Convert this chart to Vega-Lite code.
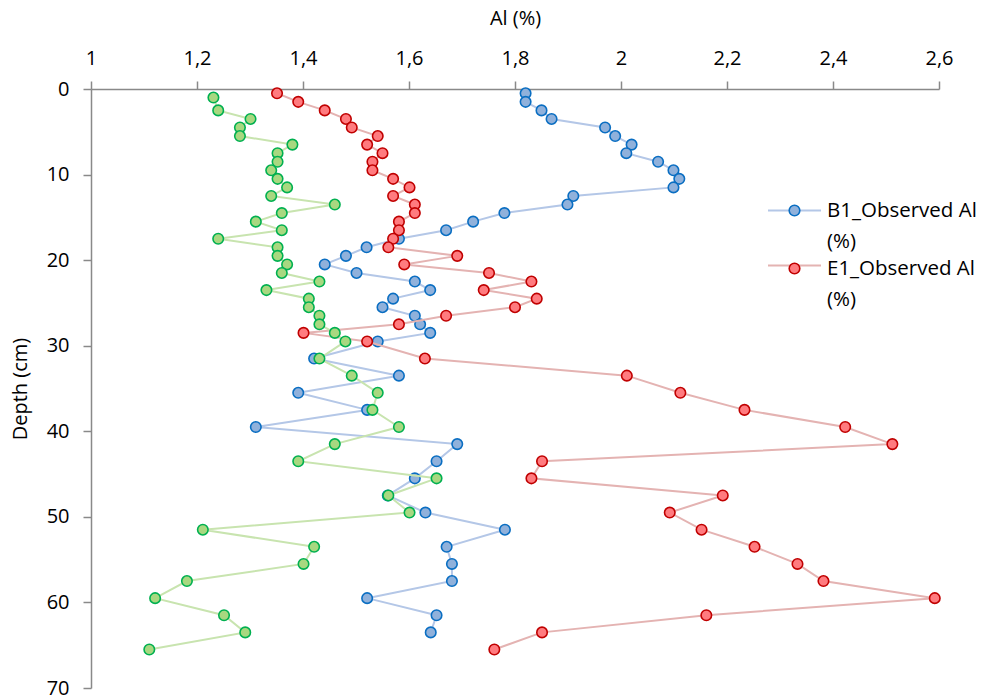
{
  "$schema": "https://vega.github.io/schema/vega-lite/v6.json",
  "width": 848,
  "height": 599,
  "autosize": {"type": "none"},
  "padding": {"left": 91, "top": 89, "right": 43, "bottom": 12},
  "background": "white",
  "config": {
    "view": {"stroke": null},
    "font": "Open Sans",
    "style": {"guide-label": {"lineHeight": 31}},
    "axis": {
      "labelFont": "Open Sans",
      "labelFontSize": 20,
      "labelColor": "#000000",
      "titleFont": "Open Sans",
      "titleFontSize": 20,
      "titleFontWeight": "normal",
      "titleColor": "#000000",
      "domainColor": "#898989",
      "domainWidth": 1.5,
      "tickColor": "#898989",
      "tickWidth": 1.5,
      "tickSize": 8,
      "grid": false
    },
    "legend": {
      "labelFont": "Open Sans",
      "labelFontSize": 20.5,
      "labelColor": "#000000"
    }
  },
  "datasets": {
    "rows": [
      {"series": "B1_Observed Al (%)", "depth": 0.5, "al": 1.820},
      {"series": "B1_Observed Al (%)", "depth": 1.5, "al": 1.820},
      {"series": "B1_Observed Al (%)", "depth": 2.5, "al": 1.850},
      {"series": "B1_Observed Al (%)", "depth": 3.5, "al": 1.869},
      {"series": "B1_Observed Al (%)", "depth": 4.5, "al": 1.970},
      {"series": "B1_Observed Al (%)", "depth": 5.5, "al": 1.989},
      {"series": "B1_Observed Al (%)", "depth": 6.5, "al": 2.020},
      {"series": "B1_Observed Al (%)", "depth": 7.5, "al": 2.010},
      {"series": "B1_Observed Al (%)", "depth": 8.5, "al": 2.070},
      {"series": "B1_Observed Al (%)", "depth": 9.5, "al": 2.099},
      {"series": "B1_Observed Al (%)", "depth": 10.5, "al": 2.110},
      {"series": "B1_Observed Al (%)", "depth": 11.5, "al": 2.099},
      {"series": "B1_Observed Al (%)", "depth": 12.5, "al": 1.910},
      {"series": "B1_Observed Al (%)", "depth": 13.5, "al": 1.899},
      {"series": "B1_Observed Al (%)", "depth": 14.5, "al": 1.780},
      {"series": "B1_Observed Al (%)", "depth": 15.5, "al": 1.721},
      {"series": "B1_Observed Al (%)", "depth": 16.5, "al": 1.670},
      {"series": "B1_Observed Al (%)", "depth": 17.5, "al": 1.581},
      {"series": "B1_Observed Al (%)", "depth": 18.5, "al": 1.520},
      {"series": "B1_Observed Al (%)", "depth": 19.5, "al": 1.481},
      {"series": "B1_Observed Al (%)", "depth": 20.5, "al": 1.441},
      {"series": "B1_Observed Al (%)", "depth": 21.5, "al": 1.501},
      {"series": "B1_Observed Al (%)", "depth": 22.5, "al": 1.611},
      {"series": "B1_Observed Al (%)", "depth": 23.5, "al": 1.640},
      {"series": "B1_Observed Al (%)", "depth": 24.5, "al": 1.570},
      {"series": "B1_Observed Al (%)", "depth": 25.5, "al": 1.550},
      {"series": "B1_Observed Al (%)", "depth": 26.5, "al": 1.611},
      {"series": "B1_Observed Al (%)", "depth": 27.5, "al": 1.621},
      {"series": "B1_Observed Al (%)", "depth": 28.5, "al": 1.640},
      {"series": "B1_Observed Al (%)", "depth": 29.5, "al": 1.541},
      {"series": "B1_Observed Al (%)", "depth": 31.5, "al": 1.421},
      {"series": "B1_Observed Al (%)", "depth": 33.5, "al": 1.581},
      {"series": "B1_Observed Al (%)", "depth": 35.5, "al": 1.391},
      {"series": "B1_Observed Al (%)", "depth": 37.5, "al": 1.521},
      {"series": "B1_Observed Al (%)", "depth": 39.5, "al": 1.311},
      {"series": "B1_Observed Al (%)", "depth": 41.5, "al": 1.691},
      {"series": "B1_Observed Al (%)", "depth": 43.5, "al": 1.652},
      {"series": "B1_Observed Al (%)", "depth": 45.5, "al": 1.611},
      {"series": "B1_Observed Al (%)", "depth": 47.5, "al": 1.560},
      {"series": "B1_Observed Al (%)", "depth": 49.5, "al": 1.631},
      {"series": "B1_Observed Al (%)", "depth": 51.5, "al": 1.781},
      {"series": "B1_Observed Al (%)", "depth": 53.5, "al": 1.671},
      {"series": "B1_Observed Al (%)", "depth": 55.5, "al": 1.681},
      {"series": "B1_Observed Al (%)", "depth": 57.5, "al": 1.681},
      {"series": "B1_Observed Al (%)", "depth": 59.5, "al": 1.521},
      {"series": "B1_Observed Al (%)", "depth": 61.5, "al": 1.652},
      {"series": "B1_Observed Al (%)", "depth": 63.5, "al": 1.641},
      {"series": "E1_Observed Al (%)", "depth": 0.5, "al": 1.351},
      {"series": "E1_Observed Al (%)", "depth": 1.5, "al": 1.391},
      {"series": "E1_Observed Al (%)", "depth": 2.5, "al": 1.441},
      {"series": "E1_Observed Al (%)", "depth": 3.5, "al": 1.481},
      {"series": "E1_Observed Al (%)", "depth": 4.5, "al": 1.492},
      {"series": "E1_Observed Al (%)", "depth": 5.5, "al": 1.541},
      {"series": "E1_Observed Al (%)", "depth": 6.5, "al": 1.521},
      {"series": "E1_Observed Al (%)", "depth": 7.5, "al": 1.550},
      {"series": "E1_Observed Al (%)", "depth": 8.5, "al": 1.531},
      {"series": "E1_Observed Al (%)", "depth": 9.5, "al": 1.531},
      {"series": "E1_Observed Al (%)", "depth": 10.5, "al": 1.570},
      {"series": "E1_Observed Al (%)", "depth": 11.5, "al": 1.601},
      {"series": "E1_Observed Al (%)", "depth": 12.5, "al": 1.570},
      {"series": "E1_Observed Al (%)", "depth": 13.5, "al": 1.611},
      {"series": "E1_Observed Al (%)", "depth": 14.5, "al": 1.611},
      {"series": "E1_Observed Al (%)", "depth": 15.5, "al": 1.581},
      {"series": "E1_Observed Al (%)", "depth": 16.5, "al": 1.581},
      {"series": "E1_Observed Al (%)", "depth": 17.5, "al": 1.570},
      {"series": "E1_Observed Al (%)", "depth": 18.5, "al": 1.561},
      {"series": "E1_Observed Al (%)", "depth": 19.5, "al": 1.691},
      {"series": "E1_Observed Al (%)", "depth": 20.5, "al": 1.591},
      {"series": "E1_Observed Al (%)", "depth": 21.5, "al": 1.751},
      {"series": "E1_Observed Al (%)", "depth": 22.5, "al": 1.831},
      {"series": "E1_Observed Al (%)", "depth": 23.5, "al": 1.741},
      {"series": "E1_Observed Al (%)", "depth": 24.5, "al": 1.841},
      {"series": "E1_Observed Al (%)", "depth": 25.5, "al": 1.800},
      {"series": "E1_Observed Al (%)", "depth": 26.5, "al": 1.670},
      {"series": "E1_Observed Al (%)", "depth": 27.5, "al": 1.581},
      {"series": "E1_Observed Al (%)", "depth": 28.5, "al": 1.401},
      {"series": "E1_Observed Al (%)", "depth": 29.5, "al": 1.521},
      {"series": "E1_Observed Al (%)", "depth": 31.5, "al": 1.630},
      {"series": "E1_Observed Al (%)", "depth": 33.5, "al": 2.011},
      {"series": "E1_Observed Al (%)", "depth": 35.5, "al": 2.112},
      {"series": "E1_Observed Al (%)", "depth": 37.5, "al": 2.233},
      {"series": "E1_Observed Al (%)", "depth": 39.5, "al": 2.423},
      {"series": "E1_Observed Al (%)", "depth": 41.5, "al": 2.512},
      {"series": "E1_Observed Al (%)", "depth": 43.5, "al": 1.851},
      {"series": "E1_Observed Al (%)", "depth": 45.5, "al": 1.831},
      {"series": "E1_Observed Al (%)", "depth": 47.5, "al": 2.192},
      {"series": "E1_Observed Al (%)", "depth": 49.5, "al": 2.092},
      {"series": "E1_Observed Al (%)", "depth": 51.5, "al": 2.152},
      {"series": "E1_Observed Al (%)", "depth": 53.5, "al": 2.252},
      {"series": "E1_Observed Al (%)", "depth": 55.5, "al": 2.333},
      {"series": "E1_Observed Al (%)", "depth": 57.5, "al": 2.382},
      {"series": "E1_Observed Al (%)", "depth": 59.5, "al": 2.592},
      {"series": "E1_Observed Al (%)", "depth": 61.5, "al": 2.161},
      {"series": "E1_Observed Al (%)", "depth": 63.5, "al": 1.851},
      {"series": "E1_Observed Al (%)", "depth": 65.5, "al": 1.761},
      {"series": "Series 3", "depth": 1.0, "al": 1.231},
      {"series": "Series 3", "depth": 2.5, "al": 1.240},
      {"series": "Series 3", "depth": 3.5, "al": 1.301},
      {"series": "Series 3", "depth": 4.5, "al": 1.281},
      {"series": "Series 3", "depth": 5.5, "al": 1.281},
      {"series": "Series 3", "depth": 6.5, "al": 1.380},
      {"series": "Series 3", "depth": 7.5, "al": 1.352},
      {"series": "Series 3", "depth": 8.5, "al": 1.352},
      {"series": "Series 3", "depth": 9.5, "al": 1.340},
      {"series": "Series 3", "depth": 10.5, "al": 1.352},
      {"series": "Series 3", "depth": 11.5, "al": 1.370},
      {"series": "Series 3", "depth": 12.5, "al": 1.340},
      {"series": "Series 3", "depth": 13.5, "al": 1.460},
      {"series": "Series 3", "depth": 14.5, "al": 1.360},
      {"series": "Series 3", "depth": 15.5, "al": 1.311},
      {"series": "Series 3", "depth": 16.5, "al": 1.360},
      {"series": "Series 3", "depth": 17.5, "al": 1.240},
      {"series": "Series 3", "depth": 18.5, "al": 1.352},
      {"series": "Series 3", "depth": 19.5, "al": 1.352},
      {"series": "Series 3", "depth": 20.5, "al": 1.370},
      {"series": "Series 3", "depth": 21.5, "al": 1.360},
      {"series": "Series 3", "depth": 22.5, "al": 1.431},
      {"series": "Series 3", "depth": 23.5, "al": 1.331},
      {"series": "Series 3", "depth": 24.5, "al": 1.411},
      {"series": "Series 3", "depth": 25.5, "al": 1.411},
      {"series": "Series 3", "depth": 26.5, "al": 1.431},
      {"series": "Series 3", "depth": 27.5, "al": 1.431},
      {"series": "Series 3", "depth": 28.5, "al": 1.460},
      {"series": "Series 3", "depth": 29.5, "al": 1.480},
      {"series": "Series 3", "depth": 31.5, "al": 1.431},
      {"series": "Series 3", "depth": 33.5, "al": 1.492},
      {"series": "Series 3", "depth": 35.5, "al": 1.541},
      {"series": "Series 3", "depth": 37.5, "al": 1.531},
      {"series": "Series 3", "depth": 39.5, "al": 1.581},
      {"series": "Series 3", "depth": 41.5, "al": 1.460},
      {"series": "Series 3", "depth": 43.5, "al": 1.391},
      {"series": "Series 3", "depth": 45.5, "al": 1.652},
      {"series": "Series 3", "depth": 47.5, "al": 1.561},
      {"series": "Series 3", "depth": 49.5, "al": 1.601},
      {"series": "Series 3", "depth": 51.5, "al": 1.211},
      {"series": "Series 3", "depth": 53.5, "al": 1.421},
      {"series": "Series 3", "depth": 55.5, "al": 1.401},
      {"series": "Series 3", "depth": 57.5, "al": 1.181},
      {"series": "Series 3", "depth": 59.5, "al": 1.121},
      {"series": "Series 3", "depth": 61.5, "al": 1.251},
      {"series": "Series 3", "depth": 63.5, "al": 1.291},
      {"series": "Series 3", "depth": 65.5, "al": 1.110}
    ]
  },
  "data": {"name": "rows"},
  "encoding": {
    "x": {
      "field": "al", "type": "quantitative",
      "scale": {"domain": [1, 2.6], "nice": false, "zero": false},
      "axis": {
        "orient": "top",
        "title": "Al (%)",
        "values": [1, 1.2, 1.4, 1.6, 1.8, 2, 2.2, 2.4, 2.6],
        "labelExpr": "replace(toString(round(datum.value * 10) / 10), '.', ',')",
        "labelPadding": 13,
        "titlePadding": 20,
        "labelFlush": false,
        "labelOverlap": false
      }
    },
    "y": {
      "field": "depth", "type": "quantitative",
      "scale": {"domain": [0, 70], "reverse": true, "nice": false, "zero": false},
      "axis": {
        "title": "Depth (cm)",
        "values": [0, 10, 20, 30, 40, 50, 60, 70],
        "labelPadding": 14,
        "titlePadding": 16,
        "labelFlush": false,
        "labelOverlap": false
      }
    },
    "order": {"field": "depth", "type": "quantitative"}
  },
  "layer": [
    {
      "transform": [{"filter": "datum.series == 'B1_Observed Al (%)'"}],
      "mark": {"type": "line", "strokeWidth": 2},
      "encoding": {
        "color": {
          "field": "series", "type": "nominal",
          "scale": {"domain": ["E1_Observed Al (%)", "B1_Observed Al (%)"], "range": ["#E4B3B2", "#B4C7E7"]},
          "legend": {
            "values": ["B1_Observed Al (%)", "E1_Observed Al (%)"],
            "orient": "none", "legendX": 676, "legendY": 105,
            "title": null, "padding": 0, "rowPadding": 10, "clipHeight": 45,
            "symbolType": "M-1,-0.226L1,-0.226", "symbolSize": 2809, "symbolStrokeWidth": 2,
            "labelOffset": 5, "labelBaseline": "alphabetic",
            "labelExpr": "''"
          }
        }
      }
    },
    {
      "transform": [{"filter": "datum.series == 'B1_Observed Al (%)'"}],
      "mark": {"type": "point", "shape": "circle", "filled": true, "opacity": 1, "strokeWidth": 1.6, "size": 110},
      "encoding": {
        "fill": {
          "field": "series", "type": "nominal",
          "scale": {"domain": ["B1_Observed Al (%)", "E1_Observed Al (%)"], "range": ["#90B1DB", "#FF7B7F"]},
          "legend": {
            "orient": "none", "legendX": 676, "legendY": 105,
            "title": null, "padding": 0, "rowPadding": 0, "clipHeight": 45,
            "symbolType": "M-0.2,-0.226A0.2,0.2,0,1,1,0.2,-0.226A0.2,0.2,0,1,1,-0.2,-0.226Z", "symbolSize": 2809, "symbolStrokeWidth": 1.6,
            "labelOffset": 5, "labelBaseline": "alphabetic",
            "labelExpr": "split(replace(datum.label, ' (%)', '|(%)'), '|')"
          }
        },
        "stroke": {
          "field": "series", "type": "nominal",
          "scale": {"domain": ["B1_Observed Al (%)", "E1_Observed Al (%)"], "range": ["#0A6EC2", "#C00000"]},
          "legend": {
            "orient": "none", "legendX": 676, "legendY": 105,
            "title": null, "padding": 0, "rowPadding": 0, "clipHeight": 45,
            "symbolType": "M-0.2,-0.226A0.2,0.2,0,1,1,0.2,-0.226A0.2,0.2,0,1,1,-0.2,-0.226Z", "symbolSize": 2809, "symbolStrokeWidth": 1.6,
            "labelOffset": 5, "labelBaseline": "alphabetic",
            "labelExpr": "split(replace(datum.label, ' (%)', '|(%)'), '|')"
          }
        }
      }
    },
    {
      "transform": [{"filter": "datum.series == 'E1_Observed Al (%)'"}],
      "mark": {"type": "line", "strokeWidth": 2},
      "encoding": {
        "color": {"field": "series", "type": "nominal"}
      }
    },
    {
      "transform": [{"filter": "datum.series == 'E1_Observed Al (%)'"}],
      "mark": {"type": "point", "shape": "circle", "filled": true, "opacity": 1, "strokeWidth": 1.6, "size": 110},
      "encoding": {
        "fill": {"field": "series", "type": "nominal"},
        "stroke": {"field": "series", "type": "nominal"}
      }
    },
    {
      "transform": [{"filter": "datum.series == 'Series 3'"}],
      "mark": {"type": "line", "strokeWidth": 2, "color": "#C8E4AF"},
      "encoding": {}
    },
    {
      "transform": [{"filter": "datum.series == 'Series 3'"}],
      "mark": {"type": "point", "shape": "circle", "filled": true, "opacity": 1, "strokeWidth": 1.6, "size": 110, "fill": "#A8D880", "stroke": "#00B050"},
      "encoding": {}
    }
  ]
}
